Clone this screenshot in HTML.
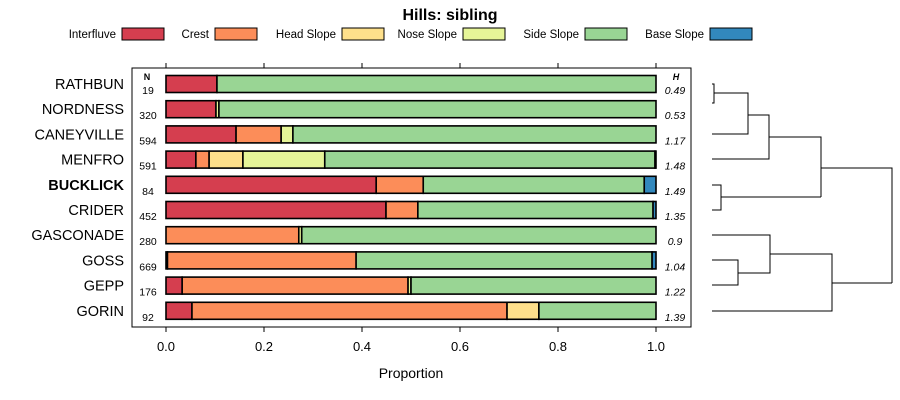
<!DOCTYPE html>
<html><head><meta charset="utf-8"><style>
body{margin:0;background:#fff;}
svg{display:block;font-family:"Liberation Sans",sans-serif;}
</style></head><body>
<svg id="chart" width="900" height="400" viewBox="0 0 900 400">
<text x="450" y="20" text-anchor="middle" font-size="16" font-weight="bold">Hills: sibling</text>
<g id="legend"></g>
<rect x="132" y="68" width="559" height="259" fill="none" stroke="#000" stroke-width="1"/>
<g id="bars"></g>
<g id="axis"></g>
<text x="411" y="378" text-anchor="middle" font-size="14">Proportion</text>
<text x="147" y="80" text-anchor="middle" font-size="9" font-weight="bold">N</text>
<text x="676" y="80" text-anchor="middle" font-size="9" font-weight="bold" font-style="italic">H</text>
<g id="dendro" fill="none" stroke="#000" stroke-width="1"></g>
</svg>
<script>
const categories=["RATHBUN","NORDNESS","CANEYVILLE","MENFRO","BUCKLICK","CRIDER","GASCONADE","GOSS","GEPP","GORIN"];
const seriesNames=["Interfluve","Crest","Head Slope","Nose Slope","Side Slope","Base Slope"];
const interfluve=[0.104,0.102,0.143,0.061,0.429,0.449,0.0,0.003,0.033,0.053];
const crest=[0.0,0.0,0.092,0.027,0.096,0.065,0.271,0.385,0.461,0.643];
const headSlope=[0,0,0,0.069,0,0,0,0,0,0.065];
const noseSlope=[0,0.006,0.024,0.167,0,0,0.006,0,0.006,0];
const sideSlope=[0.896,0.892,0.741,0.674,0.451,0.48,0.723,0.604,0.5,0.239];
const baseSlope=[0,0,0,0.002,0.024,0.006,0,0.008,0,0];
const nValues=[19,320,594,591,84,452,280,669,176,92];
const hValues=["0.49","0.53","1.17","1.48","1.49","1.35","0.9","1.04","1.22","1.39"];
const xTicks=[0,0.2,0.4,0.6,0.8,1.0];
const xTickLabels=["0.0","0.2","0.4","0.6","0.8","1.0"];
const colors=["#D53E4F","#FC8D59","#FEE08B","#E6F598","#99D594","#3288BD"];
const NS="http://www.w3.org/2000/svg";
const X=v=>166+v*490;
const Y=i=>84+i*25.2;
function mk(tag,attrs,parent,text){const e=document.createElementNS(NS,tag);for(const k in attrs)e.setAttribute(k,attrs[k]);if(text!==undefined)e.textContent=text;parent.appendChild(e);return e;}
const lg=document.getElementById('legend');
const legX=[122,215,342,463,585,710];
seriesNames.forEach((s,i)=>{
 const t=mk('text',{x:legX[i]-6,y:38,'text-anchor':'end','font-size':11.5},lg,s);
 
 
 const r=mk('rect',{x:legX[i],y:28,width:42,height:12,fill:colors[i],stroke:'#000','stroke-width':1},lg);
 
 
});
const bg=document.getElementById('bars');
const series=[interfluve,crest,headSlope,noseSlope,sideSlope,baseSlope];
categories.forEach((c,i)=>{
 const yc=Y(i);
 let cum=0;
 series.forEach((arr,j)=>{
  const v=arr[i];
  if(v>0){
   const r=mk('rect',{x:X(cum),y:yc-8.5,width:X(cum+v)-X(cum),height:17,fill:colors[j],stroke:'#000','stroke-width':1.6},bg);
   
   
  }
  cum+=v;
 });
 const lab=mk('text',{x:124,y:yc+5,'text-anchor':'end','font-size':14.5,'font-weight':c==='BUCKLICK'?'bold':'normal'},bg,c);
 
 
 const n=mk('text',{x:148,y:yc+10,'text-anchor':'middle','font-size':10.5},bg,String(nValues[i]));
 
 
 const h=mk('text',{x:675,y:yc+10,'text-anchor':'middle','font-size':10.5,'font-style':'italic'},bg,hValues[i]);
 
 
});
const ax=document.getElementById('axis');
xTicks.forEach((t,i)=>{
 mk('line',{x1:X(t),x2:X(t),y1:327,y2:332,stroke:'#000'},ax);
 mk('line',{x1:X(t),x2:X(t),y1:63,y2:68,stroke:'#000'},ax);
 const l=mk('text',{x:X(t),y:351,'text-anchor':'middle','font-size':13},ax,xTickLabels[i]);
 
 
});
const dg=document.getElementById('dendro');
const segs=[
 "M712 84H714V103H712","M714 93H748V134H712","M748 115H769V159H712","M769 137H821V197","M712 185H721V210H712","M721 197H821","M821 168H892V283",
 "M712 260H738V285H712","M738 273H770V235H712","M770 254H832V311H712","M832 283H892"
];
segs.forEach(d=>{mk('path',{d:d},dg);});
</script>
</body></html>
